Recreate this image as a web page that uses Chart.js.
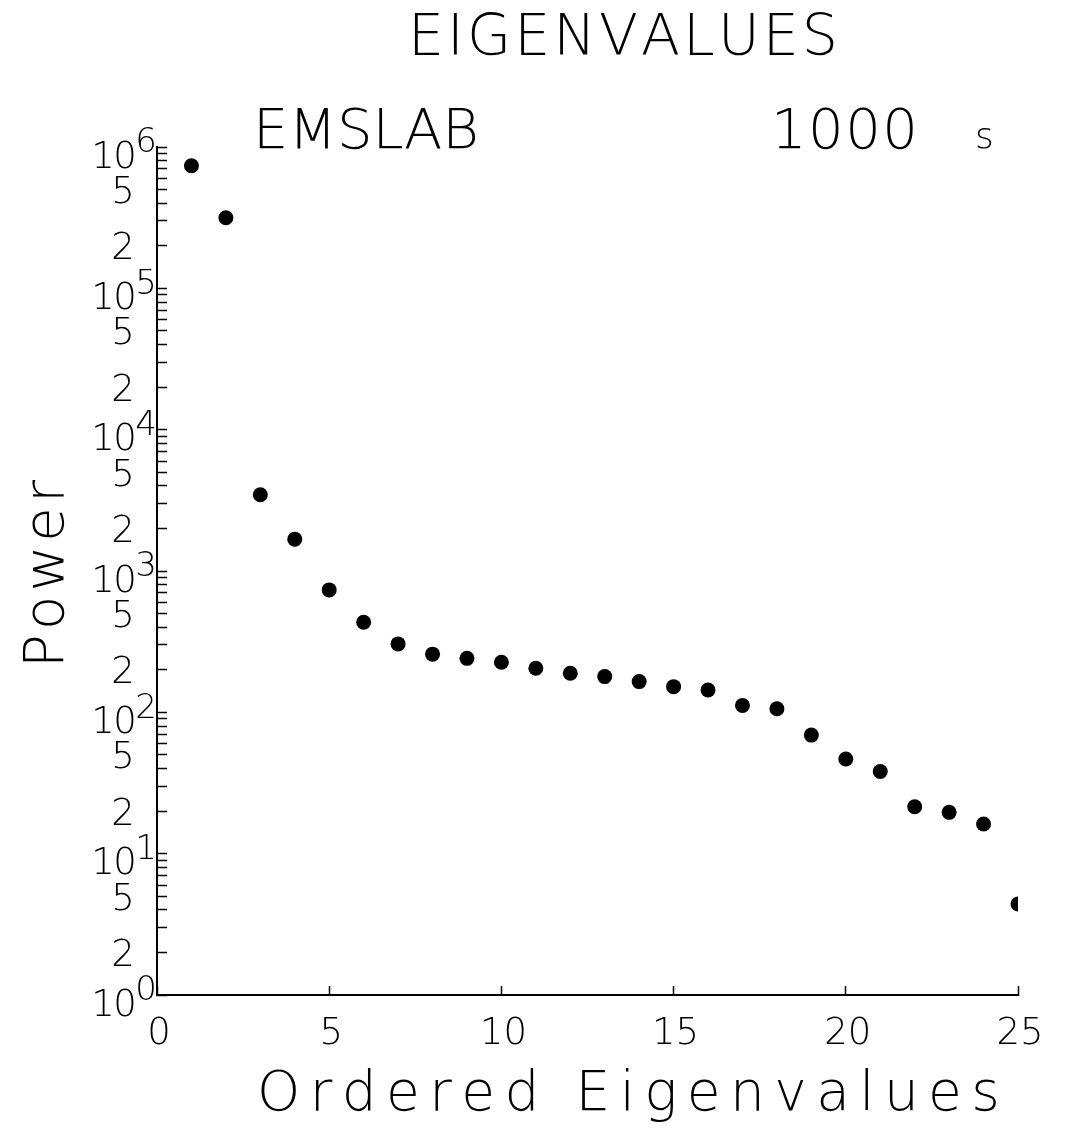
<!DOCTYPE html>
<html><head><meta charset="utf-8">
<script src="https://cdn.jsdelivr.net/npm/chart.js@4/dist/chart.umd.min.js"></script>
<style>html,body{margin:0;padding:0;background:#fff;}canvas{display:block;}</style>
</head><body>
<canvas id="c" width="1081" height="1133"></canvas>
<script>
// ---- data ----
const eigenIndex = [1,2,3,4,5,6,7,8,9,10,11,12,13,14,15,16,17,18,19,20,21,22,23,24,25];
const powerValues = [736000,316000,3460,1680,735,434,305,258,241,226,205,189,179,165,152,144,112,106,69,46.8,38.1,21.5,19.6,16.2,4.4];
const xTickValues = [0,5,10,15,20,25];
const xTickLabels = ['0','5','10','15','20','25'];
const yDecades = [1,10,100,1000,10000,100000,1000000];
const yDecadeExponents = ['0','1','2','3','4','5','6'];
const yMinorMultipliers = [2,3,4,5,6,7,8,9];
const yLabeledMultipliers = [2,5];
const titleText = 'EIGENVALUES';
const subtitleLeft = 'EMSLAB';
const subtitlePeriod = '1000';
const subtitleUnit = 's';
const xTitle = 'Ordered Eigenvalues';
const yTitle = 'Power';

const FAMILY = '"DejaVu Sans", sans-serif';
const WEIGHT = '200';

const yTickValues = [];
yDecades.forEach(d => {
  yTickValues.push(d);
  if (d < 1000000) yMinorMultipliers.forEach(m => yTickValues.push(d * m));
});
yTickValues.sort((a,b)=>a-b);

function setFont(ctx, size){ ctx.font = `${WEIGHT} ${size}px ${FAMILY}`; }

function drawSpaced(ctx, text, x0, x1, y, size){
  setFont(ctx, size);
  const chars = [...text];
  const widths = chars.map(c => ctx.measureText(c).width);
  const total = widths.reduce((a,b)=>a+b,0);
  const gap = chars.length > 1 ? (x1 - x0 - total) / (chars.length - 1) : 0;
  ctx.textAlign = 'left'; ctx.textBaseline = 'alphabetic';
  let x = x0;
  chars.forEach((c,i)=>{ ctx.fillText(c, x, y); x += widths[i] + gap; });
}
function drawCentered(ctx, text, cx, cy, size, align){
  setFont(ctx, size);
  ctx.textAlign = align || 'center'; ctx.textBaseline = 'alphabetic';
  ctx.fillText(text, cx, cy + 0.365 * size);
}

const textPlugin = {
  id: 'plotText',
  afterDraw(chart){
    const ctx = chart.ctx;
    const xs = chart.scales.x, ys = chart.scales.y;
    ctx.save();
    ctx.fillStyle = '#000';
    // titles
    drawSpaced(ctx, titleText, 408, 838, 55, 57);
    drawSpaced(ctx, subtitleLeft, 253, 479, 148, 56);
    drawSpaced(ctx, subtitlePeriod, 771, 918, 148, 56);
    drawSpaced(ctx, subtitleUnit, 975, 992, 148, 36);
    drawSpaced(ctx, xTitle, 257, 1000, 1110, 55);
    // y title rotated
    ctx.save();
    ctx.translate(63, 668);
    ctx.rotate(-Math.PI/2);
    drawSpaced(ctx, yTitle, 0, 188, 0, 56);
    ctx.restore();
    // y tick labels
    yDecades.forEach((d,i) => {
      const py = ys.getPixelForValue(d);
      drawCentered(ctx, '1', 103, py + 7, 37);
      drawCentered(ctx, '0', 125, py + 7, 37);
      drawCentered(ctx, yDecadeExponents[i], 146, py - 7, 34);
      if (d < 1000000) {
        yLabeledMultipliers.forEach(m => {
          const pm = ys.getPixelForValue(d * m);
          drawCentered(ctx, String(m), 123, pm, 37);
        });
      }
    });
    // x tick labels
    xTickValues.forEach((v,i) => {
      const px = xs.getPixelForValue(v);
      drawCentered(ctx, xTickLabels[i], px + 2, 1030, 37);
    });
    ctx.restore();
  }
};

new Chart(document.getElementById('c'), {
  type: 'scatter',
  data: {
    datasets: [{
      data: eigenIndex.map((x,i)=>({x, y: powerValues[i]})),
      backgroundColor: '#000',
      borderWidth: 0,
      pointRadius: 7.5,
      pointHoverRadius: 7.5
    }]
  },
  options: {
    responsive: false,
    devicePixelRatio: 1,
    animation: false,
    layout: { padding: { left: 157, right: 63, top: 147, bottom: 138 } },
    plugins: { legend: { display: false }, tooltip: { enabled: false } },
    scales: {
      x: {
        type: 'linear', min: 0, max: 25,
        afterBuildTicks: s => { s.ticks = xTickValues.map(v => ({value: v})); },
        afterFit: s => { s.height = 0; },
        ticks: { display: false },
        grid: { display: true, drawOnChartArea: false, drawTicks: true, tickLength: -9, color: '#000', tickWidth: 1.5 },
        border: { display: true, color: '#000', width: 2 }
      },
      y: {
        type: 'logarithmic', min: 1, max: 1000000,
        afterBuildTicks: s => { s.ticks = yTickValues.map(v => ({value: v})); },
        afterFit: s => { s.width = 0; },
        ticks: { display: false },
        grid: { display: true, drawOnChartArea: false, drawTicks: true, tickLength: -10, color: '#000', tickWidth: 1.5 },
        border: { display: true, color: '#000', width: 2 }
      }
    }
  },
  plugins: [textPlugin]
});
</script>
</body></html>
